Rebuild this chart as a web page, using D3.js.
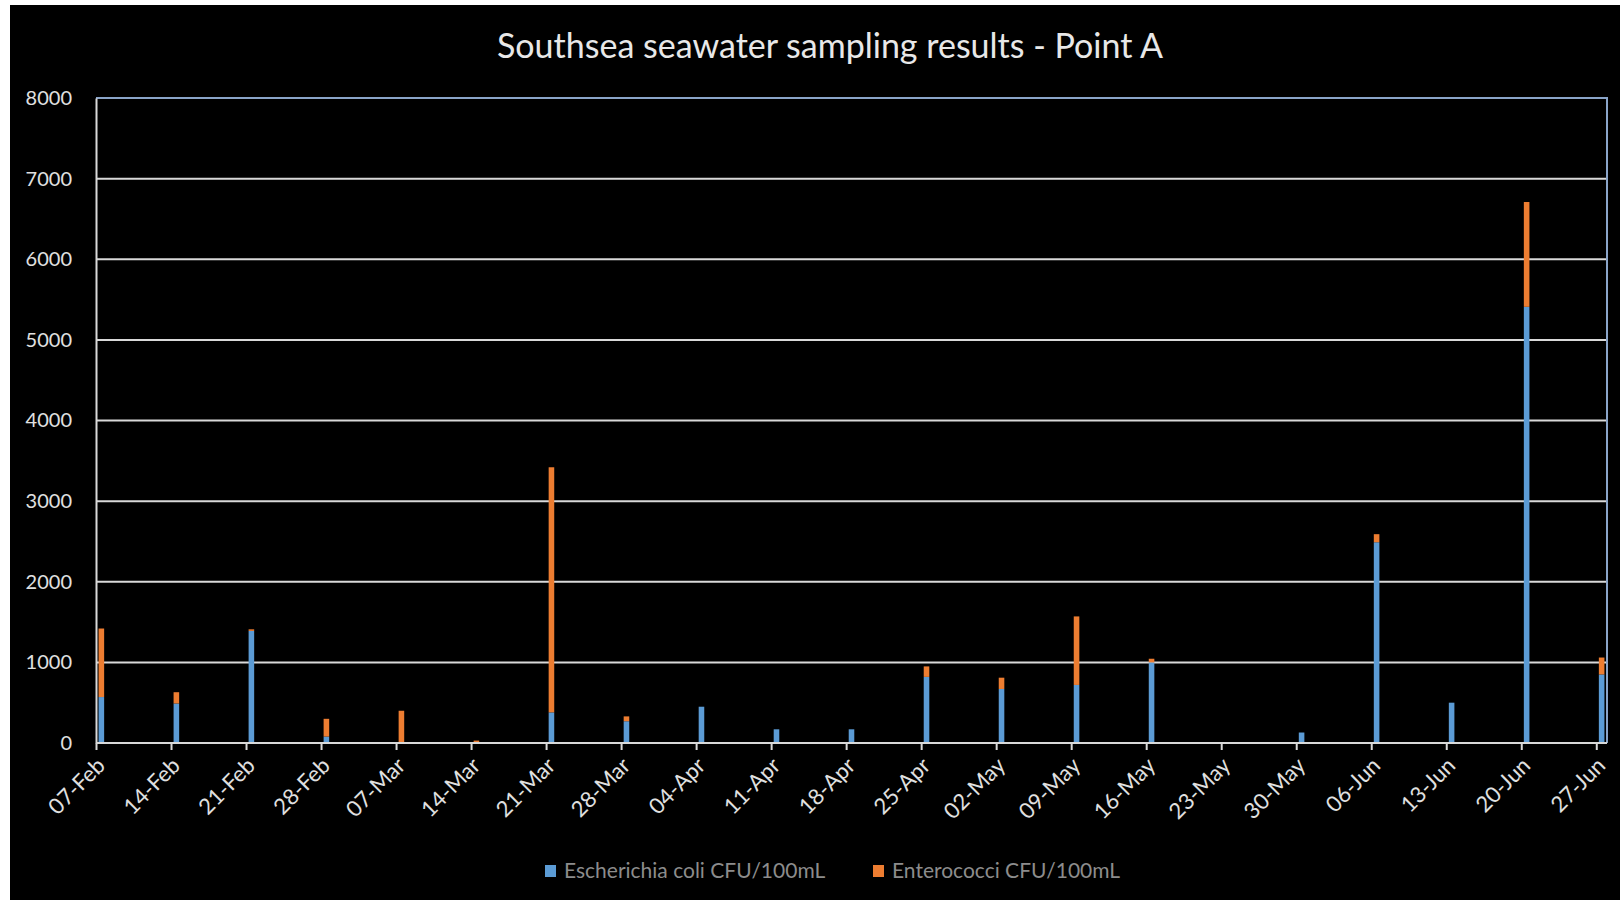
<!DOCTYPE html>
<html>
<head>
<meta charset="utf-8">
<script src="https://cdn.jsdelivr.net/npm/d3@7"></script>
<style>
  html, body { margin: 0; padding: 0; background: #ffffff; }
  svg { display: block; }
</style>
</head>
<body>
<svg id="chart" width="1620" height="900"></svg>
<script>
// ---- data ----
const sampleDates = ["2015-02-07","2015-02-14","2015-02-21","2015-02-28","2015-03-07","2015-03-14","2015-03-21",
  "2015-03-28","2015-04-04","2015-04-11","2015-04-18","2015-04-25","2015-05-02","2015-05-09","2015-05-16",
  "2015-05-23","2015-05-30","2015-06-06","2015-06-13","2015-06-20","2015-06-27"];
const ecoli =      [570, 490, 1390, 80, 10, 10, 380, 270, 450, 170, 170, 820, 670, 720, 1000, 0, 130, 2490, 500, 5410, 850];
const enterococci = [850, 140, 20, 220, 390, 20, 3040, 60, 0, 0, 0, 130, 140, 850, 45, 0, 0, 100, 0, 1300, 210];
const seriesNames = ["Escherichia coli CFU/100mL", "Enterococci CFU/100mL"];
const seriesColors = ["#5b9bd5", "#ed7d31"];
const yTickValues = [0, 1000, 2000, 3000, 4000, 5000, 6000, 7000, 8000];
const xTickDates = sampleDates;
const chartTitle = "Southsea seawater sampling results - Point A";

// ---- layout ----
const svg = d3.select("#chart");
const W = 1620, H = 900;
const plot = { left: 96, right: 1607, top: 98, bottom: 743 };
const font = "Lato, 'Open Sans', sans-serif";

svg.append("rect").attr("x", 10).attr("y", 5).attr("width", W - 10).attr("height", H - 5).attr("fill", "#000");

const parse = d3.utcParse("%Y-%m-%d");
const dates = sampleDates.map(parse);
const tickDates = xTickDates.map(parse);
const start = dates[0];
const end = d3.utcDay.offset(dates[dates.length - 1], 1);

const x = d3.scaleUtc().domain([start, end]).range([plot.left, plot.right]);
const y = d3.scaleLinear().domain([0, 8000]).range([plot.bottom, plot.top]);

// gridlines
svg.append("g")
  .selectAll("line")
  .data(yTickValues.slice(1, -1))
  .join("line")
  .attr("x1", plot.left).attr("x2", plot.right)
  .attr("y1", d => y(d)).attr("y2", d => y(d))
  .attr("stroke", "#d9d9d9").attr("stroke-width", 2);

// plot border (top/right bluish)
svg.append("path")
  .attr("d", `M${plot.left},${y(8000)}H${plot.right}V${plot.bottom}`)
  .attr("fill", "none").attr("stroke", "#8aa4c8").attr("stroke-width", 2);

// stacked bars
const rows = dates.map((d, i) => ({ date: d, ecoli: ecoli[i], entero: enterococci[i] }));
const stack = d3.stack().keys(["ecoli", "entero"])(rows);
const dayW = x(d3.utcDay.offset(start, 1)) - x(start);
const barW = dayW * 0.52;

svg.append("g")
  .selectAll("g")
  .data(stack)
  .join("g")
  .attr("fill", (s, i) => seriesColors[i])
  .selectAll("rect")
  .data(s => s)
  .join("rect")
  .attr("x", d => x(d3.utcHour.offset(d.data.date, 12)) - barW / 2)
  .attr("width", barW)
  .attr("y", d => y(d[1]))
  .attr("height", d => Math.max(0, y(d[0]) - y(d[1])));

// y axis
const yAxis = d3.axisLeft(y).tickValues(yTickValues).tickSize(0).tickPadding(24).tickFormat(d3.format("d"));
const gy = svg.append("g").attr("transform", `translate(${plot.left},0)`).call(yAxis);
gy.select(".domain").attr("stroke", "#d9d9d9").attr("stroke-width", 2);
gy.selectAll("text").attr("fill", "#e0e0e0").attr("font-family", font).attr("font-size", 20);

// x axis
const xAxis = d3.axisBottom(x).tickValues(tickDates).tickSize(7).tickSizeOuter(0).tickFormat(d3.utcFormat("%d-%b"));
const gx = svg.append("g").attr("transform", `translate(0,${plot.bottom})`).call(xAxis);
gx.select(".domain").attr("stroke", "#d9d9d9").attr("stroke-width", 2).attr("d", `M${plot.left},0H${plot.right}`);
gx.selectAll(".tick line").attr("stroke", "#d9d9d9").attr("stroke-width", 2);
gx.selectAll("text")
  .attr("fill", "#e0e0e0").attr("font-family", font).attr("font-size", 22)
  .attr("text-anchor", "end")
  .attr("dy", null).attr("y", 0).attr("x", 0)
  .attr("transform", "translate(10,24) rotate(-45)");

// title
svg.append("text")
  .attr("x", 830).attr("y", 58)
  .attr("text-anchor", "middle")
  .attr("fill", "#e8e8e8").attr("font-family", font).attr("font-size", 34)
  .text(chartTitle);

// legend
const legend = svg.append("g").attr("font-family", font).attr("font-size", 21);
const legendX = [545, 873];
seriesNames.forEach((name, i) => {
  const g = legend.append("g").attr("transform", `translate(${legendX[i]},871)`);
  g.append("rect").attr("x", 0).attr("y", -6).attr("width", 11).attr("height", 12).attr("fill", seriesColors[i]);
  g.append("text").attr("x", 19).attr("y", 7).attr("fill", "#8c8c8c").text(name);
});
</script>
</body>
</html>
